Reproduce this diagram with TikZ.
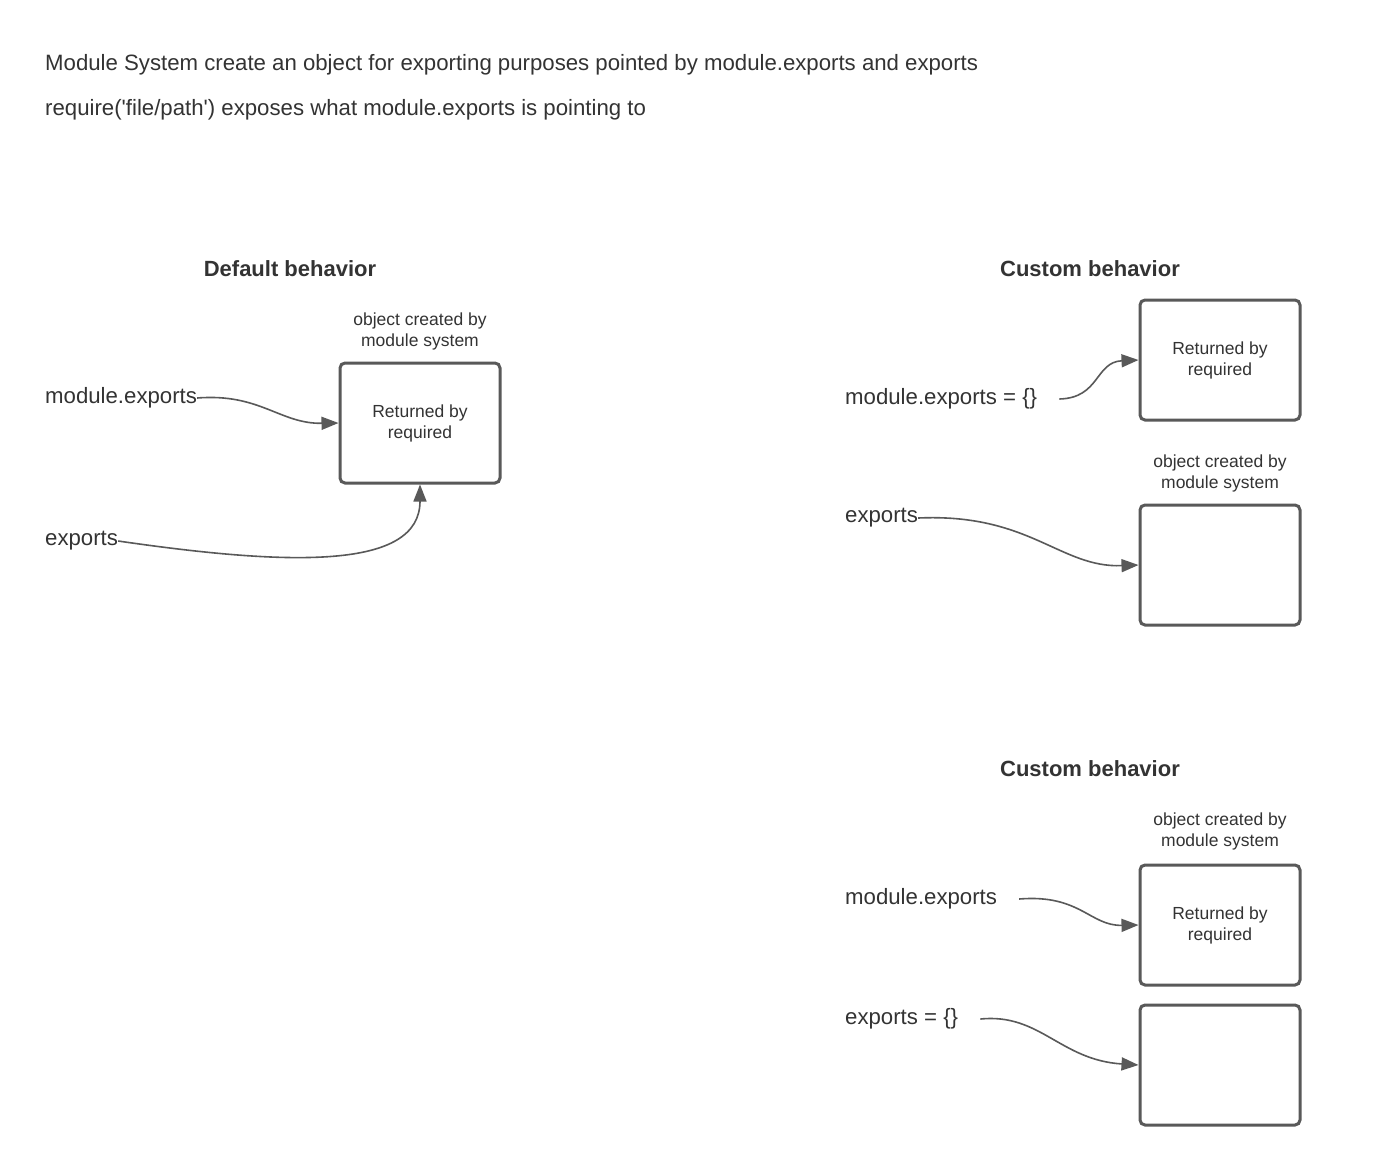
\documentclass[tikz,border=0pt]{standalone}
\usepackage{fontspec}
\setmainfont{Liberation Sans}
\usetikzlibrary{arrows.meta,calc}
\definecolor{txt}{HTML}{333333}
\definecolor{ln}{HTML}{595959}
\tikzset{
  lbltxt/.style={anchor=west,inner sep=0pt,text=txt,font=\fontsize{22.2}{26}\selectfont},
  headtxt/.style={inner sep=0pt,text=txt,font=\fontsize{22}{26}\selectfont\bfseries},
  captxt/.style={inner sep=0pt,text=txt,align=center,font=\fontsize{17.5}{21}\selectfont},
  objbox/.style={draw=ln,line width=3pt,rounded corners=5pt,minimum width=160pt,minimum height=120pt,
    align=center,text=txt,font=\fontsize{17.5}{21}\selectfont,inner sep=0pt},
  conn/.style={draw=ln,line width=1.6pt,-{Triangle[length=17pt,width=13pt]}}
}
\begin{document}
\begin{tikzpicture}[x=1pt,y=-1pt]
\useasboundingbox[fill=white] (0,0) rectangle (1380,1165);
% header text
\node[lbltxt] (t1) at (45,65) {Module System create an object for exporting purposes pointed by module.exports and exports};
\node[lbltxt] (t2) at (45,110) {require(\textquotesingle file/path\textquotesingle) exposes what module.exports is pointing to};
% Default behavior
\node[headtxt] (h1) at (290,269) {Default behavior};
\node[captxt] (c1) at (420,331) {object created by\\module system};
\node[objbox] (b1) at (420,423) {Returned by\\required};
\node[lbltxt] (me1) at (45,398) {module.exports};
\node[lbltxt] (ex1) at (45,541) {exports};
\draw[conn] (me1.east) .. controls (260,393) and (280,424) .. (b1.west);
\draw[conn] (ex1.east) .. controls (290,566) and (420,570) .. (b1.south);
% Custom behavior 1
\node[headtxt] (h2) at (1090,269) {Custom behavior};
\node[objbox] (b2) at (1220,360) {Returned by\\required};
\node[captxt] (c2) at (1220,473) {object created by\\module system};
\node[objbox] (b3) at (1220,565) {};
\node[lbltxt] (me2) at (845,399) {module.exports = \{\}};
\node[lbltxt] (ex2) at (845,518) {exports};
\draw[conn] ([xshift=22pt]me2.east) .. controls (1100,398) and (1095,362) .. (b2.west);
\draw[conn] (ex2.east) .. controls (1030,513) and (1060,568) .. (b3.west);
% Custom behavior 2
\node[headtxt] (h3) at (1090,769) {Custom behavior};
\node[captxt] (c3) at (1220,831) {object created by\\module system};
\node[objbox] (b4) at (1220,925) {Returned by\\required};
\node[objbox] (b5) at (1220,1065) {};
\node[lbltxt] (me3) at (845,899) {module.exports};
\node[lbltxt] (ex3) at (845,1019) {exports = \{\}};
\draw[conn] ([xshift=22pt]me3.east) .. controls (1080,894) and (1090,926) .. (b4.west);
\draw[conn] ([xshift=22pt]ex3.east) .. controls (1040,1013) and (1060,1060) .. (b5.west);
\end{tikzpicture}
\end{document}
